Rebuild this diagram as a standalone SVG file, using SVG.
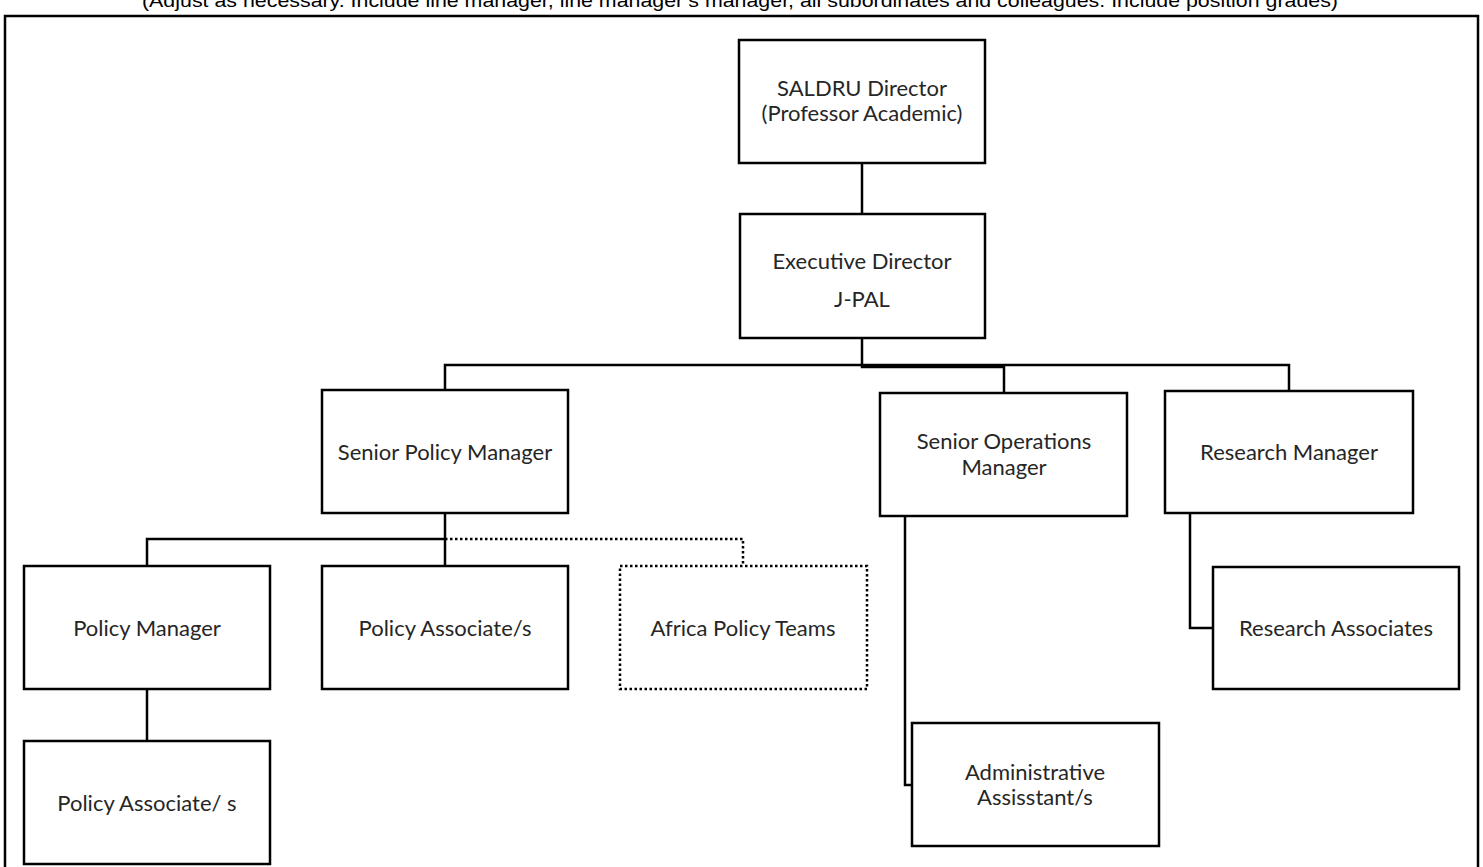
<svg xmlns="http://www.w3.org/2000/svg" width="1483" height="867" viewBox="0 0 1483 867">
<style>
.box{fill:#fff;stroke:#000;stroke-width:2.5}
.dot{fill:#fff;stroke:#000;stroke-width:2.5;stroke-dasharray:2.5 2.5}
.lbl{font-family:Lato,"Open Sans",sans-serif;font-size:22px;fill:#262626;text-anchor:middle}
.ln{fill:none;stroke:#000;stroke-width:2.5}
.dl{fill:none;stroke:#000;stroke-width:2.5;stroke-dasharray:2.5 2.5}
.cap{font-family:"Liberation Sans",Arial,sans-serif;font-size:19px;fill:#000;text-anchor:middle}
</style>
<rect width="1483" height="867" fill="#fff"/>
<text class="cap" x="740" y="7" textLength="1196" lengthAdjust="spacingAndGlyphs">(Adjust as necessary. Include line manager, line manager’s manager, all subordinates and colleagues. Include position grades)</text>
<path d="M5,870 V16 H1478 V870" fill="none" stroke="#000" stroke-width="2.5"/>
<g id="connectors">
<path class="ln" d="M862,163 V213"/>
<path class="ln" d="M862,338 V367 H1004 V393"/>
<path class="ln" d="M445,390 V365 H1289 V391"/>
<path class="ln" d="M445,513 V566"/>
<path class="ln" d="M147,566 V539 H445"/>
<path class="dl" d="M445,539 H743 V566"/>
<path class="ln" d="M147,689 V741"/>
<path class="ln" d="M905,516 V785 H912"/>
<path class="ln" d="M1190,513 V628 H1213"/>
</g>
<g id="saldru"><rect class="box" x="739" y="40" width="246" height="123"/><text class="lbl" x="862" y="96">SALDRU Director</text><text class="lbl" x="862" y="121">(Professor Academic)</text></g>
<g id="exec"><rect class="box" x="740" y="214" width="245" height="124"/><text class="lbl" x="862" y="269">Executive Director</text><text class="lbl" x="862" y="307">J-PAL</text></g>
<g id="spm"><rect class="box" x="322" y="390" width="246" height="123"/><text class="lbl" x="445" y="460">Senior Policy Manager</text></g>
<g id="som"><rect class="box" x="880" y="393" width="247" height="123"/><text class="lbl" x="1004" y="449">Senior Operations</text><text class="lbl" x="1004" y="475">Manager</text></g>
<g id="rm"><rect class="box" x="1165" y="391" width="248" height="122"/><text class="lbl" x="1289" y="460">Research Manager</text></g>
<g id="pm"><rect class="box" x="24" y="566" width="246" height="123"/><text class="lbl" x="147" y="636">Policy Manager</text></g>
<g id="pa"><rect class="box" x="322" y="566" width="246" height="123"/><text class="lbl" x="445" y="636">Policy Associate/s</text></g>
<g id="apt"><rect class="dot" x="620" y="566" width="247" height="123"/><text class="lbl" x="743" y="636">Africa Policy Teams</text></g>
<g id="ra"><rect class="box" x="1213" y="567" width="246" height="122"/><text class="lbl" x="1336" y="636">Research Associates</text></g>
<g id="aa"><rect class="box" x="912" y="723" width="247" height="123"/><text class="lbl" x="1035" y="780">Administrative</text><text class="lbl" x="1035" y="805">Assisstant/s</text></g>
<g id="pa2"><rect class="box" x="24" y="741" width="246" height="123"/><text class="lbl" x="147" y="811">Policy Associate/ s</text></g>
</svg>
